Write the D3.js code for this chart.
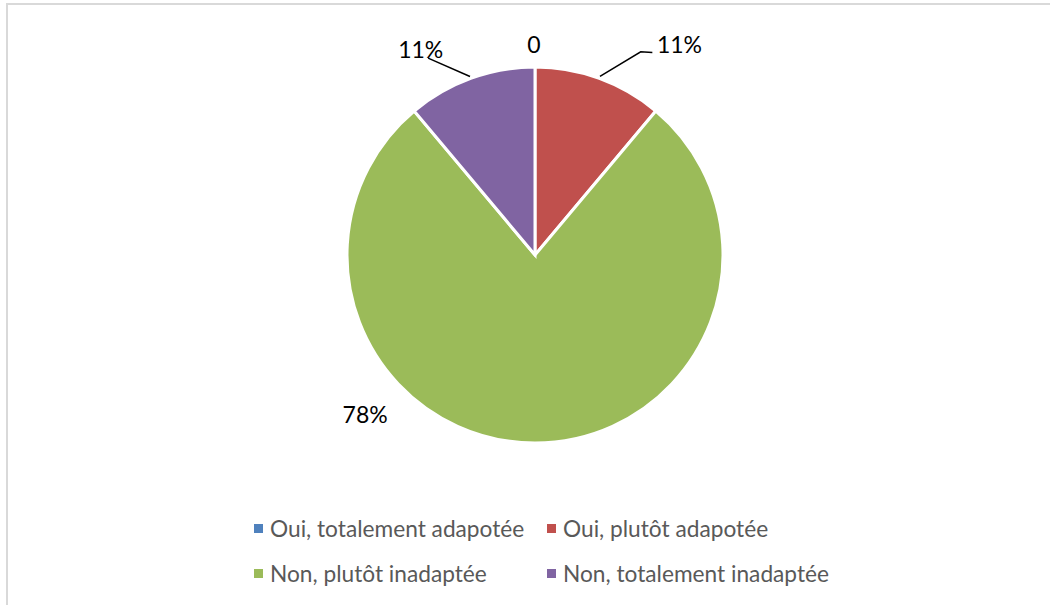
<!DOCTYPE html>
<html><head><meta charset="utf-8">
<script src="https://cdn.jsdelivr.net/npm/d3@7"></script>
<style>body{margin:0;background:#fff}svg{display:block}</style>
</head><body>
<svg id="c" width="1050" height="605"></svg>
<script>
const categories = ["Oui, totalement adapotée", "Oui, plutôt adapotée", "Non, plutôt inadaptée", "Non, totalement inadaptée"];
const values = [0, 1, 7, 1];
const labels = ["0", "11%", "78%", "11%"];
const colors = ["#4F81BD", "#C0504D", "#9BBB59", "#8064A2"];

const svg = d3.select("#c");
svg.append("rect").attr("x", 7).attr("y", 4).attr("width", 1100).attr("height", 700)
  .attr("fill", "#fff").attr("stroke", "#d9d9d9").attr("stroke-width", 2);

const cx = 535, cy = 255, R = 188;
const g = svg.append("g").attr("transform", `translate(${cx},${cy})`);
const pie = d3.pie().sort(null).value(d => d);
const arcs = pie(values);
const arc = d3.arc().innerRadius(0).outerRadius(R);
g.selectAll("path").data(arcs).enter().append("path")
  .attr("d", arc).attr("fill", (d, i) => colors[i])
  .attr("stroke", "#fff").attr("stroke-width", 3).attr("stroke-linejoin", "miter");

// label layout: polar position of text anchor (deg, dist), text anchor, optional leader
const labelLayout = [
  {ang: -0.3, dist: 202, anchor: "middle"},
  {ang: 31.1, dist: 236, anchor: "start", leader: [[null, 190], [27.5, 229], [30.1, 234]]},
  {ang: 225.3, dist: 239, anchor: "middle"},
  {ang: -25, dist: 217, anchor: "end", leader: [[null, 190], [-28.5, 224]]}
];
const rad = a => a * Math.PI / 180;
arcs.forEach((d, i) => {
  const L = labelLayout[i];
  const mid = (d.startAngle + d.endAngle) / 2;
  if (L.leader) {
    const pts = L.leader.map(([a, r]) => d3.pointRadial(a === null ? mid : rad(a), r));
    g.append("path").attr("d", d3.line()(pts)).attr("fill", "none")
      .attr("stroke", "#000").attr("stroke-width", 1.5);
  }
  const [x, y] = d3.pointRadial(rad(L.ang), L.dist);
  g.append("text").attr("x", x).attr("y", y).attr("text-anchor", L.anchor)
    .attr("font-family", "Lato, Carlito, sans-serif").attr("font-size", 23)
    .attr("fill", "#000").text(labels[i]);
});

// legend
const legendX = [254, 547], legendY = [537, 582];
const lg = svg.append("g");
categories.forEach((c, i) => {
  const col = i % 2, row = Math.floor(i / 2);
  const item = lg.append("g").attr("transform", `translate(${legendX[col]},${legendY[row]})`);
  item.append("rect").attr("x", 0).attr("y", -13).attr("width", 9).attr("height", 9).attr("fill", colors[i]);
  item.append("text").attr("x", 16).attr("y", 0)
    .attr("font-family", "Lato, Carlito, sans-serif").attr("font-size", 22.7)
    .attr("fill", "#595959").text(c);
});
</script>
</body></html>
